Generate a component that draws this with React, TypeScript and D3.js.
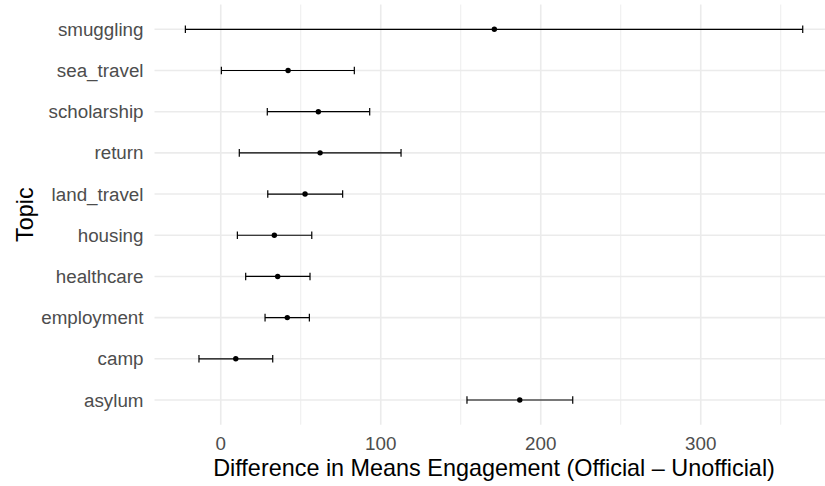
import React from "react";
import * as d3 from "d3";

const topics = ["asylum", "camp", "employment", "healthcare", "housing", "land_travel", "return", "scholarship", "sea_travel", "smuggling"];
const estimates = [186.9, 9.4, 41.6, 35.6, 33.5, 52.7, 62.1, 61.0, 42.1, 171.0];
const lowers = [153.9, -13.6, 27.7, 15.6, 10.4, 29.4, 11.6, 29.1, 0.4, -22.1];
const uppers = [220.0, 32.5, 55.4, 55.8, 56.9, 76.2, 112.7, 93.1, 83.5, 363.75];
const majorTicks = [0, 100, 200, 300];
const minorTicks = [50, 150, 250, 350];

const W = 825;
const H = 486;
const panel = { left: 154.5, right: 833.6, top: 4.6, bottom: 424.7 };

export default function App() {
  const lo = d3.min(lowers) as number;
  const hi = d3.max(uppers) as number;
  const pad = (hi - lo) * 0.05;
  const x = d3.scaleLinear().domain([lo - pad, hi + pad]).range([panel.left, panel.right]);
  const y = d3.scalePoint<string>().domain(topics).range([panel.bottom, panel.top]).padding(0.6);
  const cap = 3.8;
  const font = "'Liberation Sans', Arial, Helvetica, sans-serif";
  const cx = (panel.left + panel.right) / 2;
  const cy = (panel.top + panel.bottom) / 2;

  return (
    <div style={{ position: "absolute", left: 0, top: 0, width: W, height: H, overflow: "hidden", background: "#fff" }}>
      <svg width={W} height={H} style={{ display: "block" }} fontFamily={font}>
        <rect width={W} height={H} fill="#ffffff" />
        {minorTicks.map((t) => (
          <line key={"mn" + t} x1={x(t)} x2={x(t)} y1={panel.top} y2={panel.bottom} stroke="#EBEBEB" strokeWidth={0.9} />
        ))}
        {majorTicks.map((t) => (
          <line key={"mj" + t} x1={x(t)} x2={x(t)} y1={panel.top} y2={panel.bottom} stroke="#EBEBEB" strokeWidth={1.6} />
        ))}
        {topics.map((c) => (
          <line key={"hg" + c} x1={panel.left} x2={panel.right} y1={y(c)} y2={y(c)} stroke="#EBEBEB" strokeWidth={1.6} />
        ))}
        {topics.map((c, i) => {
          const yy = y(c) as number;
          return (
            <g key={"eb" + c}>
              <line x1={x(lowers[i])} x2={x(uppers[i])} y1={yy} y2={yy} stroke="#000" strokeWidth={1.2} />
              <line x1={x(lowers[i])} x2={x(lowers[i])} y1={yy - cap} y2={yy + cap} stroke="#000" strokeWidth={1.2} />
              <line x1={x(uppers[i])} x2={x(uppers[i])} y1={yy - cap} y2={yy + cap} stroke="#000" strokeWidth={1.2} />
              <circle cx={x(estimates[i])} cy={yy} r={2.7} fill="#000" />
            </g>
          );
        })}
        {topics.map((c) => (
          <text key={"yl" + c} x={143.5} y={(y(c) as number) + 6.6} textAnchor="end" fontSize={18.8} fill="#4D4D4D">
            {c}
          </text>
        ))}
        {majorTicks.map((t) => (
          <text key={"xl" + t} x={x(t)} y={450} textAnchor="middle" fontSize={18.8} fill="#4D4D4D">
            {t}
          </text>
        ))}
        <text x={cx} y={476} textAnchor="middle" fontSize={23.4} fill="#000">
          Difference in Means Engagement (Official – Unofficial)
        </text>
        <text transform={`translate(33.3,${cy}) rotate(-90)`} textAnchor="middle" fontSize={23.4} fill="#000">
          Topic
        </text>
      </svg>
    </div>
  );
}
